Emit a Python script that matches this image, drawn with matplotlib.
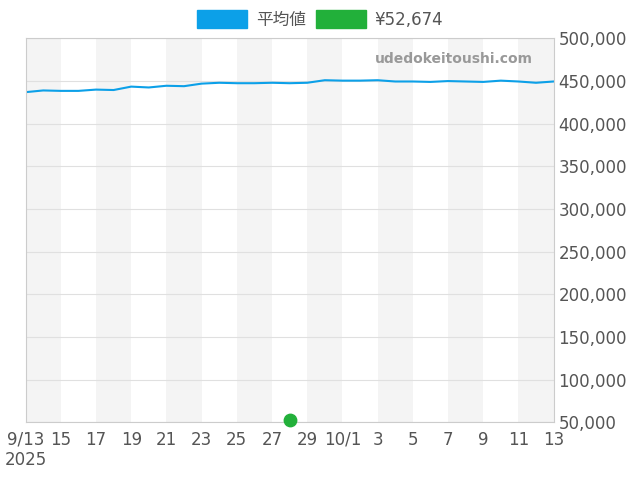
import matplotlib.pyplot as plt
import numpy as np

plt.rcParams['font.family'] = ['DejaVu Sans', 'Noto Sans CJK JP']

# days since 9/13
avg = [437000, 439000, 438500, 438500, 440000, 439500, 443500, 442500, 444500, 444000,
       447000, 448000, 447500, 447500, 448000, 447500, 448000, 451000, 450500, 450500,
       451000, 449500, 449500, 449000, 450000, 449500, 449000, 450500, 449500, 448000, 449500]
point_day = 15
point_val = 52674
tick_labels = ['9/13', '15', '17', '19', '21', '23', '25', '27', '29', '10/1',
               '3', '5', '7', '9', '11', '13']

days = np.arange(len(avg))
fig, ax = plt.subplots(figsize=(6.4, 4.8), dpi=100)
fig.subplots_adjust(left=0.04, right=0.865, top=0.92, bottom=0.12)

for s in range(0, 30, 4):
    ax.axvspan(s, s + 2, color='#f4f4f4', lw=0)

ax.plot(days, avg, color='#0ca0e8', lw=1.5)
ax.scatter([point_day], [point_val], color='#22b03a', s=80, zorder=5, clip_on=False)

ax.set_xlim(0, 30)
ax.set_ylim(50000, 500000)
ax.set_xticks(np.arange(0, 31, 2))
ax.set_xticklabels(tick_labels)
ax.set_yticks(np.arange(50000, 500001, 50000))
ax.set_yticklabels([f'{v:,}' for v in range(50000, 500001, 50000)])
ax.yaxis.tick_right()
ax.tick_params(labelsize=12, colors='#555555', length=0)
ax.tick_params(axis='x', pad=6)
ax.grid(axis='y', color='#e0e0e0', lw=0.8)
for sp in ax.spines.values():
    sp.set_color('#cccccc')
ax.text(0, -0.075, '2025', transform=ax.transAxes, fontsize=12, color='#555555', ha='center', va='top')
ax.text(0.96, 0.935, 'udedokeitoushi.com', transform=ax.transAxes, fontsize=10,
        color='#999999', fontweight='bold', ha='right')

h = [plt.Rectangle((0, 0), 1, 1, color='#0ca0e8'), plt.Rectangle((0, 0), 1, 1, color='#22b03a')]
fig.legend(h, ['平均値', '¥52,674'], loc='upper center', ncol=2, frameon=False,
           fontsize=12, bbox_to_anchor=(0.5, 1.01), handlelength=3.0, handleheight=1.3,
           handletextpad=0.5, columnspacing=0.6, labelcolor='#555555')
fig.savefig('out.png')
